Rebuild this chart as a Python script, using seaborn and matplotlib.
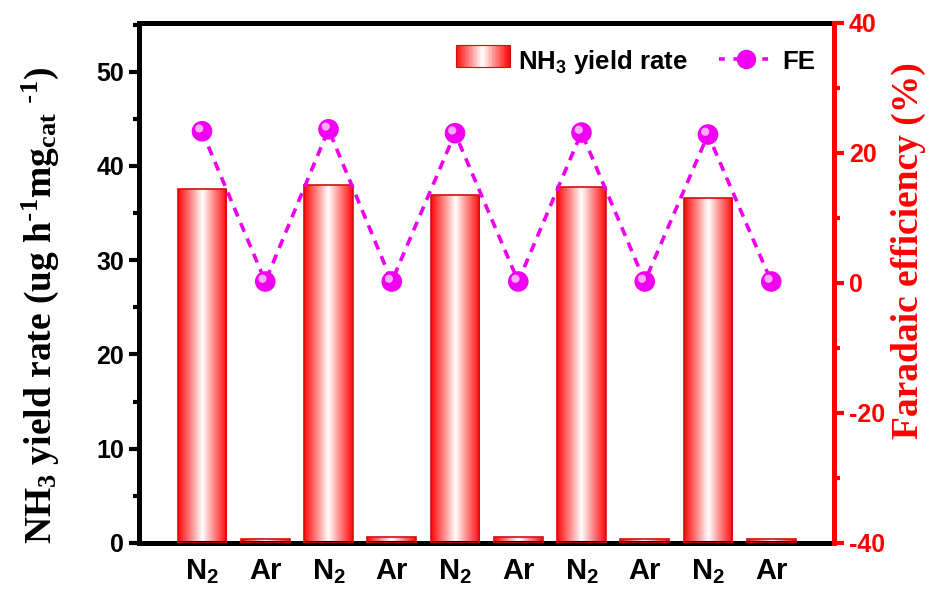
import numpy as np
import pandas as pd
import matplotlib
matplotlib.use("Agg")
import matplotlib.pyplot as plt
import seaborn as sns
from matplotlib.colors import LinearSegmentedColormap
from matplotlib.legend_handler import HandlerBase
from matplotlib.patches import Rectangle
from matplotlib.lines import Line2D
from matplotlib.ticker import MultipleLocator
import matplotlib.transforms as mtransforms

# ---- data ----
gas_labels = ["N$_2$", "Ar", "N$_2$", "Ar", "N$_2$", "Ar", "N$_2$", "Ar", "N$_2$", "Ar"]
nh3_yield = [37.6, 0.4, 38.0, 0.6, 36.9, 0.6, 37.8, 0.4, 36.6, 0.4]
fe_percent = [23.3, 0.2, 23.6, 0.2, 23.0, 0.2, 23.1, 0.2, 22.8, 0.2]
left_ticks = [0, 10, 20, 30, 40, 50]
right_ticks = [-40, -20, 0, 20, 40]

sns.set_style("white")
plt.rcParams["mathtext.default"] = "regular"
plt.rcParams["axes.unicode_minus"] = False
plt.rcParams["font.family"] = ["Liberation Sans", "DejaVu Sans"]
for k in ["text.color", "axes.labelcolor", "xtick.color", "ytick.color"]:
    plt.rcParams[k] = "black"

df = pd.DataFrame({"pos": [str(i) for i in range(len(nh3_yield))],
                   "yield": nh3_yield})

fig = plt.figure(figsize=(9.44, 5.96), dpi=100)
ax = fig.add_axes([0.147, 0.089, 0.737, 0.873])

sns.barplot(data=df, x="pos", y="yield", ax=ax, width=0.77,
            color="#ff0000", edgecolor="#d01010", linewidth=1.2, zorder=3)

cmap = LinearSegmentedColormap.from_list("rw", ["#ff0808", "#ff8080", "#ffffff", "#ff8080", "#ff0808"])
grad = np.linspace(0, 1, 256).reshape(1, -1)
for p in ax.patches:
    p.set_facecolor("none")
    x0, y0 = p.get_x(), p.get_y()
    w, h = p.get_width(), p.get_height()
    im = ax.imshow(grad, cmap=cmap, extent=[x0, x0 + w, y0, y0 + h],
                   aspect="auto", zorder=2, interpolation="bilinear")
    im.set_clip_path(p)

ax.set_xlim(-1, len(nh3_yield))
ax.set_ylim(0, 55.2)
ax.set_yticks(left_ticks)
ax.yaxis.set_minor_locator(MultipleLocator(5))
ax.set_xticks(range(len(gas_labels)))
ax.set_xticklabels(gas_labels, fontsize=21, fontweight="bold")
ax.tick_params(axis="x", length=0, pad=10, colors="black")
ax.tick_params(axis="y", which="major", length=7, width=3, labelsize=18, direction="out",
               left=True, colors="black")
ax.tick_params(axis="y", which="minor", length=4, width=3, direction="out", left=True,
               colors="black")
for lab in ax.get_yticklabels():
    lab.set_fontweight("bold")
ax.set_xlabel("")
ax.set_ylabel("NH$_3$ yield rate (ug h$^{\\text{-}1}$mg$_{cat}$ $^{\\text{-}1}$)",
              fontsize=27, fontweight="bold", family="Liberation Serif", color="black")
ax.yaxis.set_label_coords(-0.112, 0.457)
for s in ["left", "bottom", "top"]:
    ax.spines[s].set_linewidth(3.6)
    ax.spines[s].set_color("black")
ax.spines["right"].set_visible(False)

ax2 = ax.twinx()
xs = list(range(len(fe_percent)))
sns.lineplot(x=xs, y=fe_percent, ax=ax2, color="#ee00ee", linestyle="--",
             dashes=False, lw=2.6, zorder=4)
ax2.lines[0].set_dashes([2.6, 2.0])
sns.scatterplot(x=xs, y=fe_percent, ax=ax2, color="#f000f0", s=220,
                edgecolor="none", zorder=5)
hl = mtransforms.offset_copy(ax2.transData, fig=fig, x=-2.0, y=2.0, units="points")
ax2.scatter(xs, fe_percent, s=35, color="#ffaaff", edgecolor="none",
            zorder=6, transform=hl)
ax2.set_ylim(-40, 40)
ax2.set_yticks(right_ticks)
ax2.yaxis.set_minor_locator(MultipleLocator(10))
ax2.tick_params(axis="y", which="major", length=7, width=3, labelsize=18,
                colors="red", direction="out", right=True)
ax2.tick_params(axis="y", which="minor", length=4, width=3, colors="red",
                direction="out", right=True)
for lab in ax2.get_yticklabels():
    lab.set_fontweight("bold")
ax2.set_ylabel("Faradaic efficiency (%)", fontsize=27, fontweight="bold",
               family="Liberation Serif", color="red")
ax2.yaxis.set_label_coords(1.081, 0.562)
for s in ["left", "bottom", "top"]:
    ax2.spines[s].set_visible(False)
ax2.spines["right"].set_linewidth(3.6)
ax2.spines["right"].set_color("red")


class GradHandler(HandlerBase):
    def create_artists(self, legend, orig_handle, xd, yd, width, height, fontsize, trans):
        arts = []
        n = 40
        for i in range(n):
            c = cmap((i + 0.5) / n)
            r = Rectangle((xd + width * i / n, yd), width / n + 0.1, height,
                          facecolor=c, edgecolor="none", transform=trans)
            arts.append(r)
        arts.append(Rectangle((xd, yd), width, height, facecolor="none",
                              edgecolor="#d01010", lw=0.8, transform=trans))
        return arts


bar_handle = Rectangle((0, 0), 1, 1)
fe_handle = Line2D([], [], color="#ee00ee", linestyle="--", lw=2.6, dashes=[1.6, 2.4],
                   marker="o", markersize=14, markerfacecolor="#f000f0", markeredgewidth=0)
leg = ax.legend([bar_handle, fe_handle], ["NH$_3$ yield rate", "FE"],
                handler_map={Rectangle: GradHandler()},
                loc="upper right", ncol=2, frameon=False,
                prop={"weight": "bold", "size": 18.5}, handlelength=2.1,
                handleheight=0.95, handletextpad=0.35,
                columnspacing=1.2, bbox_to_anchor=(1.005, 0.995))
for t in leg.get_texts():
    t.set_color("black")
leg.set_zorder(10)

fig.savefig("out.png", dpi=100)
